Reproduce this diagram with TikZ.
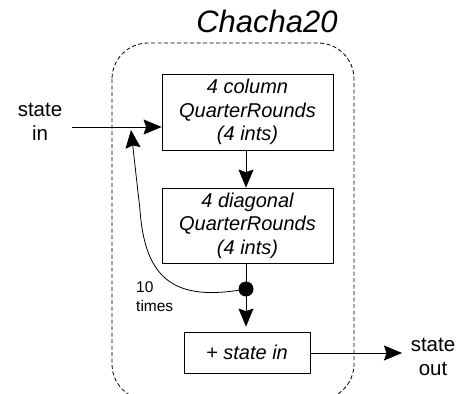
\documentclass[tikz,border=0pt]{standalone}
\usepackage{fontspec}
\setmainfont{Liberation Sans}
\usetikzlibrary{arrows.meta}
\begin{document}
\begin{tikzpicture}[x=1pt,y=-1pt,
  box/.style={draw,line width=0.8pt,align=center,inner sep=0pt,
    font=\fontsize{20}{23.5}\selectfont\itshape},
  lbl/.style={align=center,inner sep=0pt,font=\fontsize{20.5}{24}\selectfont},
  arr/.style={line width=0.8pt,-{Stealth[length=18pt,width=15pt,inset=2.5pt]}},
  conn/.style={line width=0.8pt}]
\useasboundingbox (0,0) rectangle (467,394);
\begin{scope}
\clip (0,0) rectangle (467,394);
\draw[line width=0.8pt,dash pattern=on 4pt off 2.5pt,rounded corners=36pt] (112,43) rectangle (354,400);
\end{scope}
\node[font=\fontsize{31}{31}\selectfont\itshape] (title) at (267,21) {Chacha20};
\node[box,minimum width=171pt,minimum height=76pt] (b1) at (247.5,112) {4 column\\QuarterRounds\\(4 ints)};
\node[box,minimum width=171pt,minimum height=75pt] (b2) at (247.5,225.5) {4 diagonal\\QuarterRounds\\(4 ints)};
\node[box,minimum width=126pt,minimum height=41pt] (b3) at (247,352.5) {+ state in};
\node[lbl] (sin) at (40,122) {state\\in};
\node[lbl] (sout) at (433,357) {state\\out};
\node[align=left,inner sep=0pt,anchor=west,font=\fontsize{15.5}{19}\selectfont] (ten) at (136,297) {10\\times};
\coordinate (inS) at (72,127);
\coordinate (outE) at (402,353);
\coordinate (loopend) at (131,130);
\fill (246,289) circle (7.5pt) coordinate (dot);
\draw[arr] (inS) -- (inS -| b1.west);
\draw[arr] (b1.south -| 246,0) -- (b2.north -| 246,0);
\draw[conn] (b2.south -| 246,0) -- (dot);
\draw[arr,shorten >=5pt] (dot) -- (b3.north -| 246,0);
\draw[arr] (b3.east |- outE) -- (outE);
\draw[arr] (dot) .. controls (175,302) and (145,280) .. (140,210) -- (loopend);
\end{tikzpicture}
\end{document}
